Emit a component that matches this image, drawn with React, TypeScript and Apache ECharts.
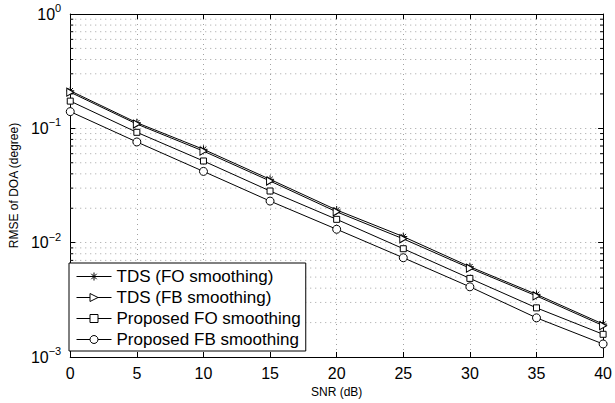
import React, { useEffect, useRef } from "react";
import * as echarts from "echarts";

const snr = [0, 5, 10, 15, 20, 25, 30, 35, 40];
const tdsFO = [0.213, 0.112, 0.0655, 0.0358, 0.0193, 0.0113, 0.00616, 0.00353, 0.00194];
const tdsFB = [0.207, 0.109, 0.0632, 0.0346, 0.0186, 0.0108, 0.00598, 0.00342, 0.00188];
const propFO = [0.173, 0.0923, 0.0518, 0.0283, 0.016, 0.00885, 0.00487, 0.00269, 0.00158];
const propFB = [0.14, 0.076, 0.042, 0.0231, 0.0131, 0.00738, 0.00411, 0.0022, 0.0013];
const seriesNames = [
  "TDS (FO smoothing)",
  "TDS (FB smoothing)",
  "Proposed FO smoothing",
  "Proposed FB smoothing",
];
const minorY = [
  0.002, 0.003, 0.004, 0.005, 0.006, 0.007, 0.008, 0.009,
  0.02, 0.03, 0.04, 0.05, 0.06, 0.07, 0.08, 0.09,
  0.2, 0.3, 0.4, 0.5, 0.6, 0.7, 0.8, 0.9,
];

const FONT = "Liberation Sans, Arial, Helvetica, sans-serif";
const gridLine = { color: "#8a8a8a", width: 0.8, type: [1, 4] as any };
const STAR = "path://M5,0L5,10M0,5L10,5M1.6,1.6L8.4,8.4M1.6,8.4L8.4,1.6";

export default function App() {
  const ref = useRef<HTMLDivElement>(null);
  useEffect(() => {
    if (!ref.current) return;
    const chart = echarts.init(ref.current, null, { renderer: "svg" });
    const mk = (name: string, vals: number[], symbol: string, size: any, rotate = 0) => ({
      name,
      type: "line",
      data: snr.map((x, i) => [x, vals[i]]),
      symbol,
      symbolSize: size,
      symbolRotate: rotate,
      showAllSymbol: true,
      z: 5,
      lineStyle: { color: "#000", width: 1 },
      itemStyle: { color: "#fff", borderColor: "#000", borderWidth: 1 },
      emphasis: { disabled: true },
    });
    chart.setOption({
      animation: false,
      textStyle: { fontFamily: FONT },
      grid: { left: 63, top: 14, right: 9, bottom: 46 },
      legend: {
        show: true,
        data: seriesNames,
        orient: "vertical",
        left: 69,
        top: 263,
        padding: [5, 5, 3, 7],
        itemGap: 4,
        itemWidth: 35,
        itemHeight: 10,
        backgroundColor: "#fff",
        borderColor: "#000",
        borderWidth: 1,
        borderRadius: 0,
        itemStyle: { color: "#fff", borderColor: "#000", borderWidth: 1 },
        lineStyle: { color: "#000", width: 1 },
        textStyle: { fontSize: 17, color: "#000", fontFamily: FONT },
        selectedMode: false,
      },
      xAxis: [
        {
          type: "value",
          min: 0,
          max: 40,
          interval: 5,
          name: "SNR (dB)",
          nameLocation: "middle",
          nameGap: 21,
          nameTextStyle: { fontSize: 12, color: "#000", fontFamily: FONT },
          axisLine: { show: true, lineStyle: { color: "#000", width: 1 } },
          axisTick: { show: true, inside: true, length: 5, lineStyle: { color: "#000" } },
          axisLabel: { fontSize: 16, color: "#000", margin: 8, fontFamily: FONT },
          splitLine: { show: true, lineStyle: gridLine },
        },
        {
          type: "value",
          position: "top",
          min: 0,
          max: 40,
          interval: 5,
          axisLine: { show: true, lineStyle: { color: "#000", width: 1 } },
          axisTick: { show: true, inside: true, length: 5, lineStyle: { color: "#000" } },
          axisLabel: { show: false },
          splitLine: { show: false },
        },
      ],
      yAxis: [
        {
          type: "log",
          logBase: 10,
          min: 0.001,
          max: 1,
          name: "RMSE of DOA (degree)",
          nameLocation: "middle",
          nameGap: 42,
          nameRotate: 90,
          nameTextStyle: { fontSize: 12, color: "#000", fontFamily: FONT },
          axisLine: { show: true, onZero: false, lineStyle: { color: "#000", width: 1 } },
          axisTick: { show: true, inside: true, length: 5, lineStyle: { color: "#000" } },
          axisLabel: {
            margin: 9,
            color: "#000",
            formatter: (v: number) => {
              const e = Math.round(Math.log10(v));
              const s = e < 0 ? "\u2212" + -e : String(e);
              return "{b|10}{s|" + s + "}";
            },
            rich: {
              b: { fontSize: 16, color: "#000", fontFamily: FONT },
              s: { fontSize: 11, color: "#000", fontFamily: FONT, padding: [0, 0, 12, 0] },
            },
          },
          splitLine: { show: true, lineStyle: gridLine },
        },
        {
          type: "log",
          logBase: 10,
          min: 0.001,
          max: 1,
          position: "right",
          axisLine: { show: true, onZero: false, lineStyle: { color: "#000", width: 1 } },
          axisTick: { show: true, inside: true, length: 5, lineStyle: { color: "#000" } },
          axisLabel: { show: false },
          splitLine: { show: false },
        },
      ],
      series: [
        {
          type: "custom",
          name: "minor",
          xAxisIndex: 0,
          yAxisIndex: 0,
          z: 1,
          silent: true,
          data: minorY.map((v) => [0, v]),
          renderItem: (params: any, api: any) => {
            const cs = params.coordSys;
            const y = api.coord([0, api.value(1)])[1];
            return {
              type: "group",
              children: [
                {
                  type: "line",
                  shape: { x1: cs.x, y1: y, x2: cs.x + cs.width, y2: y },
                  style: { stroke: gridLine.color, lineWidth: gridLine.width, lineDash: [1, 4] },
                },
                {
                  type: "line",
                  shape: { x1: cs.x, y1: y, x2: cs.x + 3, y2: y },
                  style: { stroke: "#000", lineWidth: 1 },
                },
                {
                  type: "line",
                  shape: { x1: cs.x + cs.width - 3, y1: y, x2: cs.x + cs.width, y2: y },
                  style: { stroke: "#000", lineWidth: 1 },
                },
              ],
            };
          },
        },
        mk(seriesNames[0], tdsFO, STAR, 8),
        mk(seriesNames[1], tdsFB, "triangle", [8, 7], -90),
        mk(seriesNames[2], propFO, "rect", 6),
        mk(seriesNames[3], propFB, "circle", 8),
      ],
    });
    return () => chart.dispose();
  }, []);
  return (
    <div
      ref={ref}
      style={{ position: "fixed", left: 0, top: 0, width: 615, height: 403, background: "#fff" }}
    />
  );
}
